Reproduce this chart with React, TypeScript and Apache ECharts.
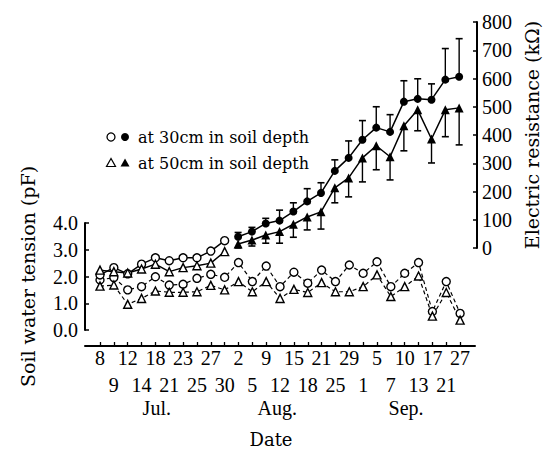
import React, { useEffect, useRef } from "react";
import * as echarts from "echarts";

// ---- data ----
const dates = ["8", "9", "12", "14", "18", "21", "23", "25", "27", "30", "2", "5", "9", "12", "15", "18", "21", "25", "29", "1", "5", "7", "10", "13", "17", "21", "27"];
const monthLabels = ["Jul.", "Aug.", "Sep."];
const monthPos = [4.1, 12.8, 22.1]; // position along the date index axis

// soil water tension (pF), solid lines (Jul 8 - Jul 30)
const pf30Solid = [2.06, 2.33, 2.1, 2.46, 2.7, 2.59, 2.7, 2.7, 2.95, 3.34];
const pf50Solid = [2.24, 2.18, 2.13, 2.28, 2.46, 2.18, 2.33, 2.4, 2.5, 2.93];
// soil water tension (pF), dashed lines (all dates)
const pf30 = [1.87, 1.96, 1.5, 1.62, 1.99, 1.68, 1.71, 1.93, 2.08, 1.97, 2.52, 1.81, 2.39, 1.62, 2.16, 1.75, 2.24, 1.81, 2.43, 2.12, 2.55, 1.62, 2.12, 2.52, 0.69, 1.81, 0.62];
const pf50 = [1.64, 1.68, 0.96, 1.18, 1.46, 1.41, 1.41, 1.43, 1.67, 1.5, 1.81, 1.43, 1.81, 1.18, 1.52, 1.4, 1.77, 1.43, 1.43, 1.62, 2.06, 1.25, 1.62, 2.02, 0.52, 1.4, 0.37];

// electric resistance (kOhm), from Aug 2 (index 10)
const erStart = 10;
const er30 = [40, 58, 87, 97, 129, 165, 195, 273, 319, 383, 426, 411, 518, 528, 525, 596, 606];
const er30Upper = [55, 73, 105, 134, 160, 210, 231, 312, 379, 451, 500, 472, 592, 599, 581, 706, 741];
const er50 = [14, 28, 46, 58, 84, 110, 128, 213, 248, 319, 362, 323, 433, 489, 386, 489, 496];
const er50Lower = [0, 7, 17, 17, 38, 64, 67, 160, 181, 234, 277, 241, 344, 415, 301, 394, 365];

const NUMFONT = '"Liberation Serif", "DejaVu Serif", serif';
const TXTFONT = '"DejaVu Serif", "Liberation Serif", serif';

export default function App() {
  const ref = useRef<HTMLDivElement>(null);

  useEffect(() => {
    if (!ref.current) return;
    const chart = echarts.init(ref.current, null, { renderer: "svg" });
    const idx = dates.map((_, i) => i);
    const evenIdx = idx.filter((i) => i % 2 === 0);
    const oddIdx = idx.filter((i) => i % 2 === 1);

    const errRender = (params: any, api: any) => {
      const x = api.value(0);
      const a = api.coord([x, api.value(1)]);
      const b = api.coord([x, api.value(2)]);
      return {
        type: "group",
        children: [
          { type: "line", shape: { x1: a[0], y1: a[1], x2: b[0], y2: b[1] }, style: { stroke: "#000", lineWidth: 1.4 } },
          { type: "line", shape: { x1: b[0] - 3.5, y1: b[1], x2: b[0] + 3.5, y2: b[1] }, style: { stroke: "#000", lineWidth: 1.6 } },
        ],
      };
    };

    const openStyle = { color: "#fff", borderColor: "#000", borderWidth: 1.4 };
    const xMin = -15 / 13.85;
    const xMax0 = (475 - 100) / 13.85;
    const dateLabel = {
      showMinLabel: true,
      showMaxLabel: true,
      hideOverlap: false,
      fontFamily: NUMFONT,
      fontSize: 20,
      lineHeight: 20,
      color: "#000",
      formatter: (v: number) => dates[Math.round(v)],
    };

    const option: any = {
      animation: false,
      backgroundColor: "#fff",
      textStyle: { fontFamily: NUMFONT, color: "#000" },
      grid: [
        { left: 85, top: 223, width: 390, height: 107 },
        { left: 85, top: 22, width: 393, height: 226 },
      ],
      xAxis: [
        {
          gridIndex: 0,
          type: "value",
          min: xMin,
          max: xMax0,
          position: "bottom",
          offset: 16,
          axisLine: { show: true, onZero: false, lineStyle: { color: "#000", width: 2 } },
          axisTick: { show: true, inside: true, length: 4, customValues: idx, lineStyle: { color: "#000", width: 1.3 } },
          axisLabel: { ...dateLabel, customValues: evenIdx, margin: 2 },
          splitLine: { show: false },
          name: "Date",
          nameLocation: "middle",
          nameGap: 84,
          nameMoveOverlap: false,
          nameTextStyle: { fontFamily: TXTFONT, fontSize: 18, color: "#000", padding: [0, 18, 0, 0] },
        },
        {
          gridIndex: 1,
          type: "value",
          min: xMin,
          max: (478 - 100) / 13.85,
          show: false,
        },
        {
          gridIndex: 0,
          type: "value",
          min: xMin,
          max: xMax0,
          position: "bottom",
          offset: 16,
          axisLine: { show: false, onZero: false },
          axisTick: { show: false },
          splitLine: { show: false },
          axisLabel: { ...dateLabel, customValues: oddIdx, margin: 29 },
        },
      ],
      yAxis: [
        {
          gridIndex: 0,
          type: "value",
          position: "left",
          min: 0,
          max: 4,
          interval: 1,
          axisLine: { show: true, onZero: false, lineStyle: { color: "#000", width: 2 } },
          axisTick: { show: true, inside: true, length: 4, lineStyle: { color: "#000", width: 1.5 } },
          axisLabel: { margin: 7, padding: [5, 0, 0, 0], fontFamily: NUMFONT, fontSize: 20, color: "#000", formatter: (v: number) => v.toFixed(1) },
          splitLine: { show: false },
          name: "Soil water tension (pF)",
          nameLocation: "middle",
          nameRotate: 90,
          nameGap: 48,
          nameMoveOverlap: false,
          nameTextStyle: { fontFamily: TXTFONT, fontSize: 19, color: "#000" },
        },
        {
          gridIndex: 1,
          type: "value",
          position: "right",
          min: 0,
          max: 800,
          interval: 100,
          axisLine: { show: true, onZero: false, lineStyle: { color: "#000", width: 2 } },
          axisTick: { show: true, inside: true, length: 4, lineStyle: { color: "#000", width: 1.5 } },
          axisLabel: { margin: 5, fontFamily: NUMFONT, fontSize: 20, color: "#000" },
          splitLine: { show: false },
          name: "Electric resistance (kΩ)",
          nameLocation: "middle",
          nameRotate: 90,
          nameGap: 45,
          nameMoveOverlap: false,
          nameTextStyle: { fontFamily: TXTFONT, fontSize: 19, color: "#000" },
        },
      ],
      series: [
        {
          type: "line",
          xAxisIndex: 0,
          yAxisIndex: 0,
          data: pf30.map((v, i) => [i, v]),
          symbol: "circle",
          symbolSize: 8,
          itemStyle: openStyle,
          lineStyle: { color: "#000", width: 1.2, type: [4, 3] },
          z: 2,
        },
        {
          type: "line",
          xAxisIndex: 0,
          yAxisIndex: 0,
          data: pf50.map((v, i) => [i, v]),
          symbol: "triangle",
          symbolSize: 8,
          itemStyle: openStyle,
          lineStyle: { color: "#000", width: 1.2, type: [4, 3] },
          z: 2,
        },
        {
          type: "line",
          xAxisIndex: 0,
          yAxisIndex: 0,
          data: pf30Solid.map((v, i) => [i, v]),
          symbol: "circle",
          symbolSize: 8,
          itemStyle: openStyle,
          lineStyle: { color: "#000", width: 1.4 },
          z: 3,
        },
        {
          type: "line",
          xAxisIndex: 0,
          yAxisIndex: 0,
          data: pf50Solid.map((v, i) => [i, v]),
          symbol: "triangle",
          symbolSize: 8,
          itemStyle: openStyle,
          lineStyle: { color: "#000", width: 1.4 },
          z: 3,
        },
        {
          type: "custom",
          xAxisIndex: 1,
          yAxisIndex: 1,
          renderItem: errRender,
          data: er30.map((v, i) => [erStart + i, v, er30Upper[i]]),
          encode: { x: 0, y: [1, 2] },
          z: 4,
        },
        {
          type: "custom",
          xAxisIndex: 1,
          yAxisIndex: 1,
          renderItem: errRender,
          data: er50.map((v, i) => [erStart + i, v, er50Lower[i]]),
          encode: { x: 0, y: [1, 2] },
          z: 4,
        },
        {
          type: "line",
          xAxisIndex: 1,
          yAxisIndex: 1,
          data: er30.map((v, i) => [erStart + i, v]),
          symbol: "circle",
          symbolSize: 8,
          itemStyle: { color: "#000" },
          lineStyle: { color: "#000", width: 1.5 },
          z: 5,
        },
        {
          type: "line",
          xAxisIndex: 1,
          yAxisIndex: 1,
          data: er50.map((v, i) => [erStart + i, v]),
          symbol: "triangle",
          symbolSize: 9,
          itemStyle: { color: "#000" },
          lineStyle: { color: "#000", width: 1.5 },
          z: 5,
        },
      ],
    };
    chart.setOption(option);

    // month names placed under the date axis through the axis' own scale
    const monthTexts = monthLabels.map((m, k) => {
      const px = chart.convertToPixel({ xAxisIndex: 0 }, monthPos[k]) as number;
      return {
        type: "text",
        x: px,
        y: 408,
        style: { text: m, font: `20px ${NUMFONT}`, fill: "#000", align: "center", verticalAlign: "middle" },
      };
    });

    chart.setOption({
      graphic: [
        { type: "circle", shape: { cx: 111, cy: 137, r: 4 }, style: { fill: "#fff", stroke: "#000", lineWidth: 1.3 } },
        { type: "circle", shape: { cx: 125, cy: 137, r: 4 }, style: { fill: "#000" } },
        { type: "text", x: 138, y: 137, style: { text: "at 30cm in soil depth", font: `16px ${TXTFONT}`, fill: "#000", verticalAlign: "middle" } },
        { type: "polygon", shape: { points: [[111, 158.5], [106.5, 166.5], [115.5, 166.5]] }, style: { fill: "#fff", stroke: "#000", lineWidth: 1.2 } },
        { type: "polygon", shape: { points: [[125, 158.5], [120.5, 166.5], [129.5, 166.5]] }, style: { fill: "#000" } },
        { type: "text", x: 138, y: 163, style: { text: "at 50cm in soil depth", font: `16px ${TXTFONT}`, fill: "#000", verticalAlign: "middle" } },
        ...monthTexts,
      ],
    });
    return () => chart.dispose();
  }, []);

  return <div ref={ref} style={{ position: "fixed", left: 0, top: 0, width: 549, height: 450, background: "#fff" }} />;
}
